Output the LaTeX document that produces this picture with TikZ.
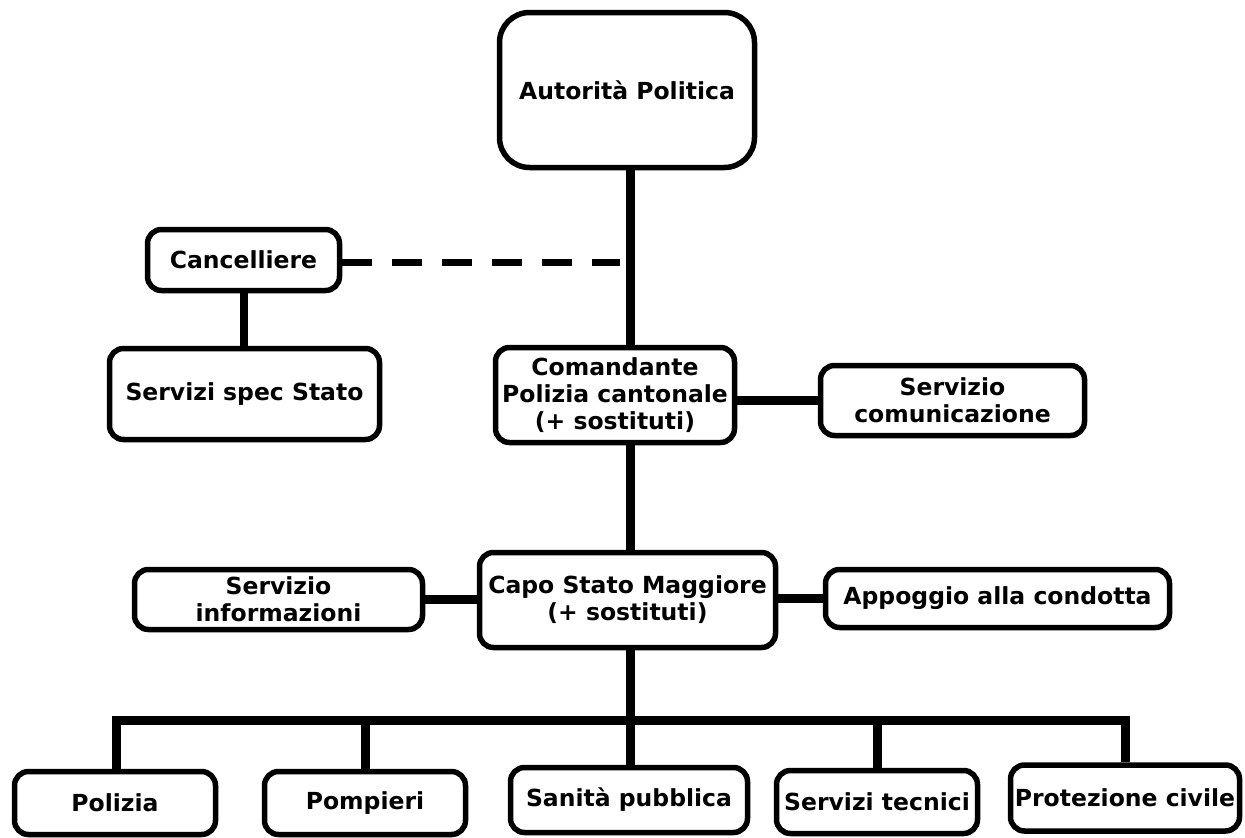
\documentclass[tikz,border=0pt]{standalone}
\usepackage{fontspec}
\setmainfont{DejaVu Sans}
\begin{document}
\begin{tikzpicture}[x=1pt,y=-1pt,
  box/.style={draw=black,line width=5.5pt,rounded corners=14pt,fill=white,
    align=center,inner sep=0pt,font=\fontsize{23.5}{27}\selectfont\bfseries},
  conn/.style={line width=9pt},
  dashconn/.style={line width=7pt,dash pattern=on 30pt off 20pt}]
\useasboundingbox (0,0) rectangle (1245,838);
% nodes
\node[box,rounded corners=30pt,minimum width=255pt,minimum height=155pt] (auto) at (627,90) {Autorità Politica};
\node[box,minimum width=192pt,minimum height=61pt] (canc) at (243.5,260) {Cancelliere};
\node[box,minimum width=270pt,minimum height=91pt] (sss) at (244.5,394) {Servizi spec Stato};
\node[box,minimum width=239pt,minimum height=95pt] (com) at (615,395) {Comandante\\Polizia cantonale\\(+ sostituti)};
\node[box,minimum width=264pt,minimum height=70pt] (scom) at (952.5,400.5) {Servizio\\comunicazione};
\node[box,minimum width=296pt,minimum height=95pt] (capo) at (627.5,600) {Capo Stato Maggiore\\(+ sostituti)};
\node[box,minimum width=288pt,minimum height=60pt] (sinf) at (278.5,599.5) {Servizio\\informazioni};
\node[box,minimum width=344pt,minimum height=58pt] (app) at (997.5,598.5) {Appoggio alla condotta};
\node[box,minimum width=201pt,minimum height=63pt] (pol) at (115,803) {Polizia};
\node[box,minimum width=201pt,minimum height=63pt] (pom) at (365,803) {Pompieri};
\node[box,minimum width=237pt,minimum height=65pt] (san) at (629,800) {Sanità pubblica};
\node[box,minimum width=201pt,minimum height=63pt] (st) at (877,802) {Servizi tecnici};
\node[box,minimum width=229pt,minimum height=66pt] (pc) at (1125,798) {Protezione civile};
% coordinates
\coordinate (spine) at (630,0);
\coordinate (dashend) at (620,262);
\coordinate (busL) at (116,720);
\coordinate (busR) at (1125,720);
% connectors
\draw[conn] (auto.south -| spine) -- (com.north -| spine);
\draw[conn] (com.south -| spine) -- (capo.north -| spine);
\draw[conn,line width=8pt] (canc.south) -- (sss.north -| canc.south);
\draw[dashconn] (canc.east |- dashend) -- (dashend);
\draw[conn] (com.east |- scom.west) -- (scom.west);
\draw[conn] (sinf.east) -- (sinf.east -| capo.west);
\draw[conn] (capo.east |- app.west) -- (app.west);
\draw[conn] (capo.south -| spine) -- (spine |- busL);
\draw[conn,line cap=rect] (busL) -- (busR);
\draw[conn] (busL) -- (busL |- pol.north);
\draw[conn] (pom.north |- busL) -- (pom.north);
\draw[conn] (san.north -| spine) -- (spine |- busL);
\draw[conn] (st.north |- busL) -- (st.north);
\draw[conn] (busR) -- (busR |- pc.north);
\end{tikzpicture}
\end{document}
